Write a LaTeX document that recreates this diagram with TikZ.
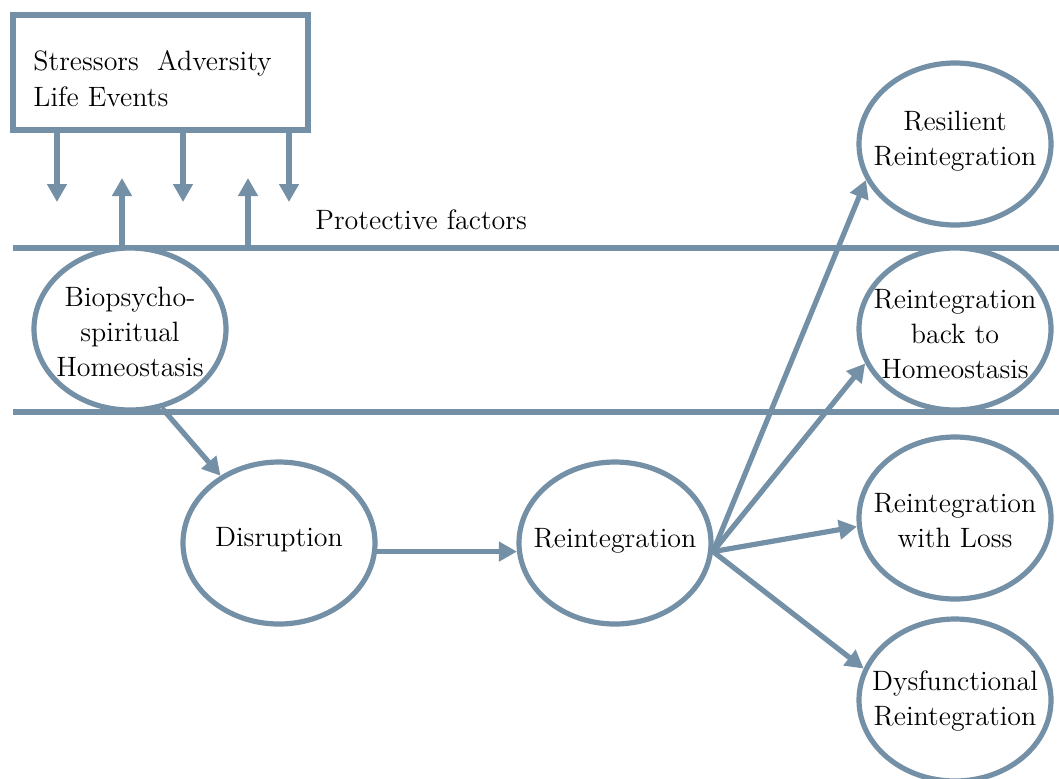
\documentclass[tikz,border=0pt]{standalone}
\usetikzlibrary{arrows.meta,shapes.geometric}
\definecolor{steel}{RGB}{116,144,166}
\begin{document}
\begin{tikzpicture}[x=0.5pt,y=-0.5pt,
  line/.style={draw=steel,line width=2.6pt},
  arr/.style={line,-{Triangle[length=9pt,width=9.5pt]}},
  ell/.style={ellipse,draw=steel,line width=2.6pt,fill=white,minimum width=96pt,minimum height=81pt,inner sep=0pt},
  txt/.style={font=\fontsize{14}{17.5}\selectfont,align=center,inner sep=0pt,text=black},
]
\useasboundingbox (0,0) rectangle (1059,778);

% horizontal lines
\coordinate (la) at (13,248);
\coordinate (lb) at (1059,248);
\coordinate (ma) at (13,412);
\coordinate (mb) at (1059,412);
\draw[line] (la) -- (lb);
\draw[line] (ma) -- (mb);

% stressor box
\node[draw=steel,line width=2.6pt,minimum width=147.5pt,minimum height=57.5pt,inner sep=0pt] (sbox) at (160.5,72.5) {};
\node[txt,anchor=base west] (st1) at (33,70) {Stressors\ \ Adversity};
\node[txt,anchor=base west] (st2) at (33,106) {Life Events};

% down / up arrows
\coordinate (d1) at (57,202);
\coordinate (d2) at (183,202);
\coordinate (d3) at (289,202);
\coordinate (u1) at (122,178);
\coordinate (u2) at (248,178);
\draw[arr] (sbox.south -| d1) -- (d1);
\draw[arr] (sbox.south -| d2) -- (d2);
\draw[arr] (sbox.south -| d3) -- (d3);
\draw[arr] (la -| u1) -- (u1);
\draw[arr] (la -| u2) -- (u2);

\node[txt,anchor=base west] (prot) at (315,229) {Protective factors};

% ellipses
\node[ell] (bio) at (130,329) {};
\node[txt] (biot) at (130,332) {Biopsycho-\\spiritual\\Homeostasis};
\node[ell] (dis) at (279,543) {};
\node[txt] (dist) at (279,540) {Disruption};
\node[ell] (rei) at (615,543) {};
\node[txt] (reit) at (615,541) {Reintegration};
\node[ell] (res) at (955,144) {};
\node[txt] (rest) at (955,141) {Resilient\\Reintegration};
\node[ell] (bac) at (955,329) {};
\node[txt] (bact) at (955,334) {Reintegration\\back to\\Homeostasis};
\node[ell] (los) at (955,518) {};
\node[txt] (lost) at (955,521) {Reintegration\\with Loss};
\node[ell] (dys) at (955,700) {};
\node[txt] (dyst) at (955,701) {Dysfunctional\\Reintegration};

% connectors
\draw[arr] (bio.-68) -- (dis.131.6);
\draw[arr] (dis.-5) -- (rei.185);
\coordinate (hub) at (rei.-5);
\draw[arr] (hub) -- (res.202.4);
\draw[arr] (hub) -- (bac.201.6);
\draw[arr] (hub) -- (los.185.9);
\draw[arr] (hub) -- (dys.161);
\end{tikzpicture}
\end{document}
